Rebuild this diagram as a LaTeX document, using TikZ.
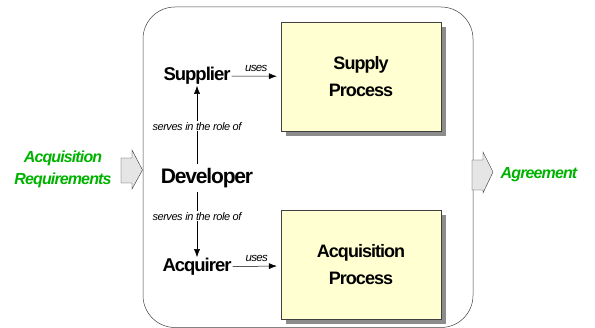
\documentclass[tikz,border=0pt]{standalone}
\usepackage{fontspec}
\setmainfont{Liberation Sans}
\usetikzlibrary{positioning,shadows,arrows.meta}

\definecolor{procfill}{RGB}{255,255,210}
\definecolor{flowgreen}{RGB}{0,178,0}

\newcommand{\tight}{\addfontfeature{LetterSpace=-5.5}}

\tikzset{
    process/.style = {draw=black!75, fill=procfill, align=center,
        minimum width=160pt, minimum height=109pt,
        font=\bfseries\fontsize{18}{27}\selectfont\tight,
        drop shadow={shadow xshift=5pt, shadow yshift=-5pt,
            fill=black!45, opacity=1}},
    role/.style = {inner sep=1pt, font=\bfseries\fontsize{18.5}{21}\selectfont\tight},
    serves/.style = {fill=white, inner sep=1pt,
        font=\itshape\fontsize{11}{13}\selectfont\addfontfeature{LetterSpace=-4}},
    uses/.style = {inner sep=1pt, font=\itshape\fontsize{11.5}{14}\selectfont\tight},
    flow/.style = {text=flowgreen, align=center,
        font=\bfseries\itshape\fontsize{16}{22}\selectfont\tight},
    blockarrow/.style = {draw=black!80, fill=black!10, line width=0.4pt},
    link/.style = {-{Latex[length=8pt,width=6pt]}, line width=0.5pt}
}

\begin{document}
\begin{tikzpicture}[x=1pt, y=1pt]

    \useasboundingbox (0, 0) rectangle (595, 328);

    % the enterprise boundary
    \draw[black!75, line width=0.5pt, rounded corners=32pt]
        (143, 0.5) rectangle (473, 321);

    % processes
    \node[process] (supply) at (361, 251.5) {Supply\\Process};
    \node[process] (acquisition) at (361, 63) {Acquisition\\Process};

    % roles
    \node[role, font=\bfseries\fontsize{21}{24}\selectfont\tight]
        (developer) at (207, 150) {Developer};
    \node[role] (supplier) at (197, 252) {Supplier};
    \node[role] (acquirer) at (197, 61) {Acquirer};

    \draw[link, shorten >=4pt]
        (supplier) -- node[uses, above=3pt] {uses} (supply);
    \draw[link, shorten >=4pt]
        (acquirer) -- node[uses, above=3pt] {uses} (acquisition);

    \draw[link, shorten <=3pt]
        (developer.north -| supplier) -- node[serves] {serves in the role of}
        (supplier.south);
    \draw[link, shorten <=3pt]
        (developer.south -| acquirer) -- node[serves, pos=0.4] {serves in the role of}
        (acquirer.north);

    % input and output
    \node[flow] (requirements) at (63, 159) {Acquisition\\Requirements};
    \node[flow] (agreement) at (539, 153) {Agreement};

    \draw[blockarrow]
        (121, 145) -- (121, 170) -- (132, 170) -- (132, 178)
        -- (142.5, 158) -- (132, 139) -- (132, 145) -- cycle;
    \draw[blockarrow]
        (472, 138) -- (472, 168) -- (483, 168) -- (483, 176)
        -- (493, 156) -- (483, 135) -- (483, 138) -- cycle;

\end{tikzpicture}
\end{document}
